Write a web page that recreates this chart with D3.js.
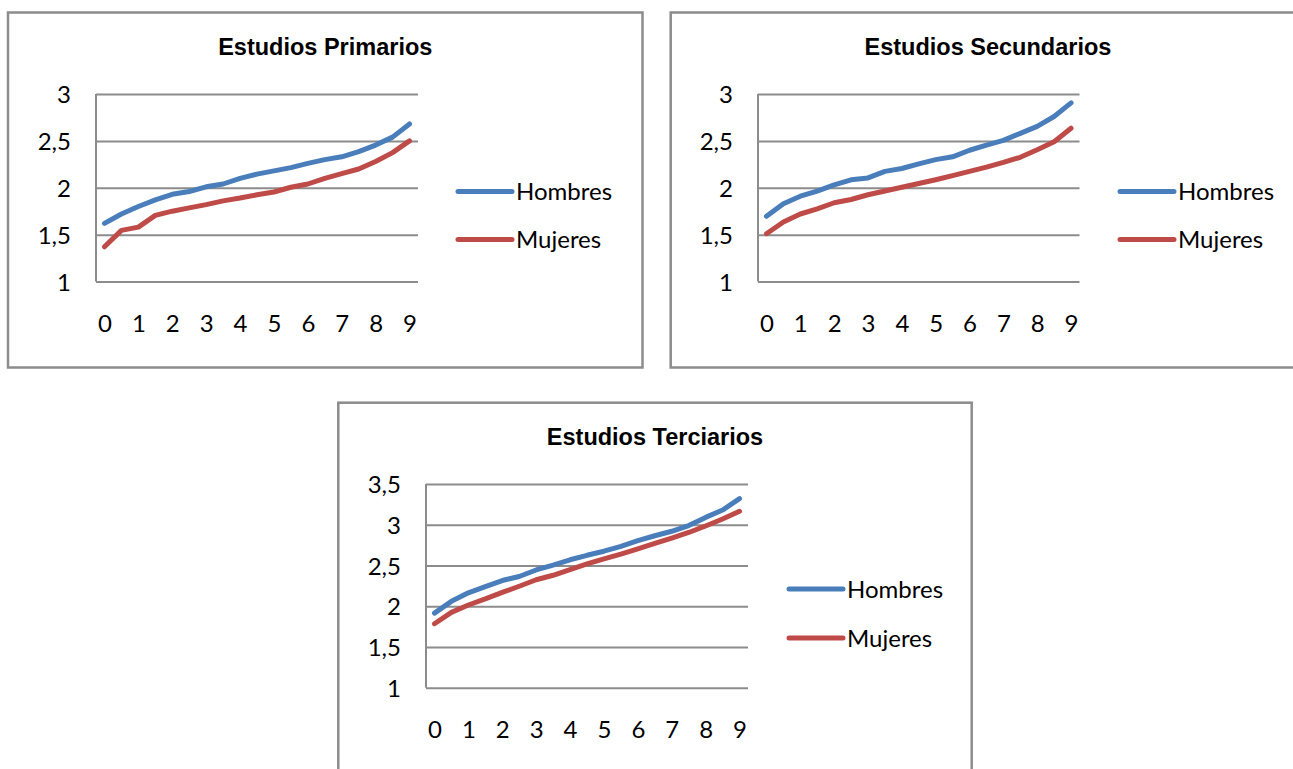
<!DOCTYPE html>
<html>
<head>
<meta charset="utf-8">
<script src="https://cdn.jsdelivr.net/npm/d3@7/dist/d3.min.js"></script>
<style>
  html, body { margin: 0; padding: 0; background: #ffffff; }
  svg { display: block; }
  .tick text { font-family: Lato, "Open Sans", sans-serif; fill: #000; }
</style>
</head>
<body>
<svg id="chart" width="1293" height="769"></svg>
<script>
// Deciles on the category axis (half steps), labelled every whole unit
const deciles = [0, 0.5, 1, 1.5, 2, 2.5, 3, 3.5, 4, 4.5, 5, 5.5, 6, 6.5, 7, 7.5, 8, 8.5, 9];
const xTickLabels = [0, 1, 2, 3, 4, 5, 6, 7, 8, 9];
const seriesNames = ["Hombres", "Mujeres"];

// Estudios Primarios
const primariosHombres = [1.62, 1.72, 1.80, 1.87, 1.93, 1.96, 2.01, 2.04, 2.10, 2.145, 2.18, 2.215, 2.26, 2.30, 2.33, 2.385, 2.455, 2.54, 2.68];
const primariosMujeres = [1.37, 1.545, 1.58, 1.705, 1.75, 1.785, 1.82, 1.86, 1.89, 1.925, 1.955, 2.005, 2.04, 2.10, 2.15, 2.20, 2.28, 2.375, 2.50];
const primariosTicks = [1, 1.5, 2, 2.5, 3];

// Estudios Secundarios
const secundariosHombres = [1.695, 1.83, 1.91, 1.965, 2.03, 2.085, 2.105, 2.175, 2.205, 2.255, 2.30, 2.33, 2.40, 2.455, 2.505, 2.58, 2.655, 2.76, 2.905];
const secundariosMujeres = [1.51, 1.635, 1.72, 1.775, 1.84, 1.875, 1.925, 1.965, 2.005, 2.045, 2.085, 2.13, 2.175, 2.22, 2.27, 2.325, 2.405, 2.49, 2.635];
const secundariosTicks = [1, 1.5, 2, 2.5, 3];

// Estudios Terciarios
const terciariosHombres = [1.915, 2.06, 2.165, 2.24, 2.315, 2.365, 2.445, 2.505, 2.57, 2.625, 2.675, 2.735, 2.805, 2.865, 2.92, 2.99, 3.09, 3.18, 3.32];
const terciariosMujeres = [1.785, 1.925, 2.015, 2.09, 2.17, 2.245, 2.325, 2.38, 2.45, 2.52, 2.58, 2.64, 2.705, 2.77, 2.835, 2.905, 2.985, 3.07, 3.165];
const terciariosTicks = [1, 1.5, 2, 2.5, 3, 3.5];

const colors = { Hombres: "#4a7ebb", Mujeres: "#be4b48" };
const gridColor = "#8c8c8c";
const frameColor = "#8c8c8c";

const esLocale = d3.formatLocale({ decimal: ",", thousands: ".", grouping: [3], currency: ["", " €"] });
const fmt = esLocale.format("~g");

const panels = [
  { title: "Estudios Primarios", hombres: primariosHombres, mujeres: primariosMujeres, ticks: primariosTicks,
    box: { x: 8, y: 12.5, w: 634.5, h: 355 }, plot: { l: 96, r: 418, t: 94, b: 281.5 },
    legend: { x: 458, y: 191.5, gap: 48 } },
  { title: "Estudios Secundarios", hombres: secundariosHombres, mujeres: secundariosMujeres, ticks: secundariosTicks,
    box: { x: 670.7, y: 12.5, w: 634.5, h: 355 }, plot: { l: 758, r: 1079.5, t: 94, b: 281.5 },
    legend: { x: 1120, y: 191.5, gap: 48 } },
  { title: "Estudios Terciarios", hombres: terciariosHombres, mujeres: terciariosMujeres, ticks: terciariosTicks,
    box: { x: 338.3, y: 402.7, w: 633.4, h: 400 }, plot: { l: 426, r: 748, t: 484, b: 687.7 },
    legend: { x: 789, y: 589, gap: 49 } }
];

const svg = d3.select("#chart");

panels.forEach(p => {
  const g = svg.append("g");

  // chart frame
  g.append("rect")
    .attr("x", p.box.x).attr("y", p.box.y)
    .attr("width", p.box.w).attr("height", p.box.h)
    .attr("fill", "#fff").attr("stroke", frameColor).attr("stroke-width", 2.5);

  // title
  g.append("text")
    .attr("x", p.box.x + p.box.w / 2).attr("y", p.box.y + 34.5)
    .attr("text-anchor", "middle").attr("dominant-baseline", "central")
    .attr("font-family", "'Liberation Sans', Arial, sans-serif")
    .attr("font-weight", "bold").attr("font-size", 23.5)
    .text(p.title);

  const x = d3.scalePoint().domain(deciles).range([p.plot.l, p.plot.r]).padding(0.5);
  const y = d3.scaleLinear().domain([p.ticks[0], p.ticks[p.ticks.length - 1]]).range([p.plot.b, p.plot.t]);

  // horizontal gridlines + value labels
  const yAxis = g.append("g")
    .attr("transform", `translate(${p.plot.l},0)`)
    .call(d3.axisLeft(y).tickValues(p.ticks).tickFormat(fmt)
      .tickSize(-(p.plot.r - p.plot.l)).tickPadding(25));
  yAxis.select(".domain").remove();
  yAxis.selectAll(".tick line").attr("stroke", gridColor).attr("stroke-width", 2);
  yAxis.selectAll(".tick text").attr("font-size", 24).attr("dy", "0.36em");

  // vertical value axis line
  g.append("line")
    .attr("x1", p.plot.l).attr("x2", p.plot.l)
    .attr("y1", p.plot.t).attr("y2", p.plot.b)
    .attr("stroke", gridColor).attr("stroke-width", 2);

  // category labels
  const xAxis = g.append("g")
    .attr("transform", `translate(0,${p.plot.b})`)
    .call(d3.axisBottom(x).tickValues(xTickLabels).tickSize(0).tickPadding(0).tickFormat(d3.format("d")));
  xAxis.select(".domain").remove();
  xAxis.selectAll(".tick text").attr("font-size", 24).attr("y", 42).attr("dy", "0.36em");

  // series lines
  const line = d3.line().x((d, i) => x(deciles[i])).y(d => y(d));
  const series = [{ name: "Hombres", values: p.hombres }, { name: "Mujeres", values: p.mujeres }];
  series.forEach(s => {
    g.append("path")
      .datum(s.values)
      .attr("d", line)
      .attr("fill", "none")
      .attr("stroke", colors[s.name])
      .attr("stroke-width", 5)
      .attr("stroke-linejoin", "round")
      .attr("stroke-linecap", "round");
  });

  // legend
  seriesNames.forEach((name, i) => {
    const ly = p.legend.y + i * p.legend.gap;
    g.append("line")
      .attr("x1", p.legend.x).attr("x2", p.legend.x + 54)
      .attr("y1", ly).attr("y2", ly)
      .attr("stroke", colors[name]).attr("stroke-width", 5)
      .attr("stroke-linecap", "round");
    g.append("text")
      .attr("x", p.legend.x + 58).attr("y", ly)
      .attr("dy", "0.36em")
      .attr("font-family", "Lato, 'Open Sans', sans-serif")
      .attr("font-size", 24)
      .text(name);
  });
});
</script>
</body>
</html>
